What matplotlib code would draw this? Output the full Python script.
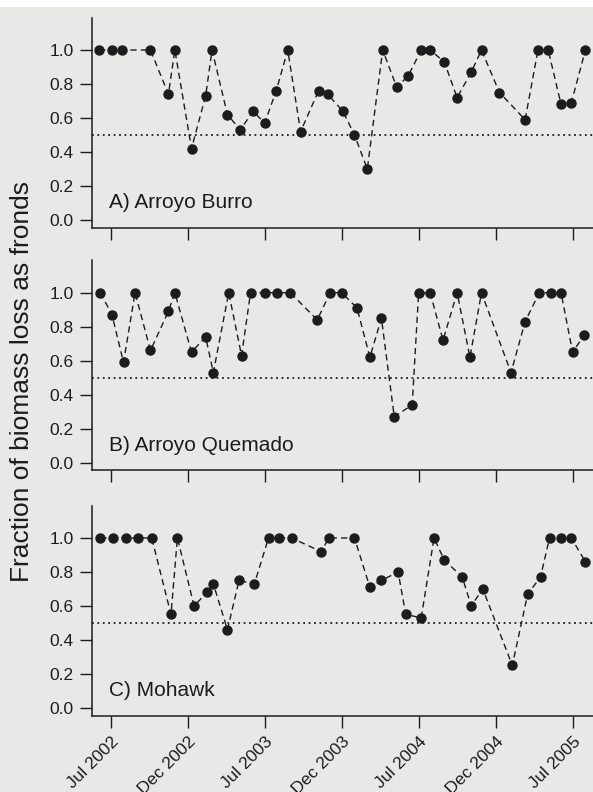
import numpy as np
import matplotlib
matplotlib.use("Agg")
import matplotlib.pyplot as plt
from matplotlib.patches import Rectangle

plt.rcParams['font.family'] = ['Liberation Sans', 'DejaVu Sans']

# x = months after Jul 2002 (tick positions every 6 months)
tick_pos = [0, 6, 12, 18, 24, 30, 36]
tick_labels = ["Jul 2002", "Dec 2002", "Jul 2003", "Dec 2003",
               "Jul 2004", "Dec 2004", "Jul 2005"]

burro_x = [-0.9, 0.1, 0.9, 3.1, 4.5, 5.0, 6.3, 7.4, 7.9, 9.1, 10.1, 11.1, 12.0,
           12.9, 13.8, 14.8, 16.2, 16.9, 18.1, 19.0, 20.0, 21.2, 22.3, 23.2,
           24.2, 24.9, 26.0, 27.0, 28.1, 28.9, 30.3, 32.3, 33.3, 34.1, 35.1,
           35.9, 37.0]
burro_y = [1.0, 1.0, 1.0, 1.0, 0.74, 1.0, 0.42, 0.73, 1.0, 0.62, 0.53, 0.64,
           0.57, 0.76, 1.0, 0.52, 0.76, 0.74, 0.64, 0.50, 0.30, 1.0, 0.78,
           0.85, 1.0, 1.0, 0.93, 0.72, 0.87, 1.0, 0.75, 0.59, 1.0, 1.0, 0.68,
           0.69, 1.0]

quemado_x = [-0.8, 0.1, 1.0, 1.9, 3.1, 4.5, 5.0, 6.3, 7.4, 8.0, 9.2, 10.2,
             10.9, 12.0, 13.0, 14.0, 16.1, 17.1, 18.0, 19.2, 20.2, 21.1, 22.1,
             23.5, 24.0, 24.9, 25.9, 27.0, 28.0, 28.9, 31.2, 32.3, 33.4, 34.3,
             35.1, 36.0, 36.9]
quemado_y = [1.0, 0.87, 0.59, 1.0, 0.66, 0.89, 1.0, 0.65, 0.74, 0.53, 1.0,
             0.63, 1.0, 1.0, 1.0, 1.0, 0.84, 1.0, 1.0, 0.91, 0.62, 0.85, 0.27,
             0.34, 1.0, 1.0, 0.72, 1.0, 0.62, 1.0, 0.53, 0.83, 1.0, 1.0, 1.0,
             0.65, 0.75]

mohawk_x = [-0.8, 0.2, 1.2, 2.1, 3.2, 4.7, 5.2, 6.5, 7.5, 8.0, 9.1, 10.0,
            11.2, 12.3, 13.1, 14.1, 16.4, 17.0, 19.0, 20.2, 21.1, 22.4, 23.0,
            24.2, 25.2, 26.0, 27.4, 28.1, 29.0, 31.3, 32.5, 33.5, 34.2, 35.1,
            35.9, 37.0]
mohawk_y = [1.0, 1.0, 1.0, 1.0, 1.0, 0.55, 1.0, 0.60, 0.68, 0.73, 0.46, 0.75,
            0.73, 1.0, 1.0, 1.0, 0.92, 1.0, 1.0, 0.71, 0.75, 0.80, 0.55, 0.53,
            1.0, 0.87, 0.77, 0.60, 0.70, 0.25, 0.67, 0.77, 1.0, 1.0, 1.0, 0.86]

sites = ["A) Arroyo Burro", "B) Arroyo Quemado", "C) Mohawk"]
series = [(burro_x, burro_y), (quemado_x, quemado_y), (mohawk_x, mohawk_y)]

BG = "#e8e8e6"
INK = "#1c1c1c"

fig = plt.figure(figsize=(5.93, 7.92), dpi=100, facecolor=BG)
fig.add_artist(Rectangle((0, 1 - 7 / 792), 1, 7 / 792, transform=fig.transFigure,
                         facecolor="white", edgecolor="none"))

left = 91.7 / 593
bottoms = [0.7126, 0.4062, 0.0965]
height = 0.265

for i, (name, (x, y)) in enumerate(zip(sites, series)):
    ax = fig.add_axes([left, bottoms[i], 1 - left, height])
    ax.set_facecolor("none")
    ax.axhline(0.5, color=INK, lw=1.3, ls=(0, (1, 2.0)))
    ax.plot(x, y, color=INK, lw=1.0, ls=(0, (4.5, 3)),
            marker="o", ms=6.5, mfc=INK, mec=INK)

    ax.set_xlim(-1.48, 37.59)
    ax.set_ylim(-0.045, 1.19)
    ax.set_yticks(np.arange(0, 1.01, 0.2))
    ax.set_yticklabels([f"{v:.1f}" for v in np.arange(0, 1.01, 0.2)])
    ax.set_xticks(tick_pos)
    if i == 2:
        ax.set_xticklabels(tick_labels, rotation=45, ha="right", va="top",
                           rotation_mode="anchor")
    else:
        ax.set_xticklabels([])

    for s in ["top", "right"]:
        ax.spines[s].set_visible(False)
    for s in ["left", "bottom"]:
        ax.spines[s].set_color(INK)
        ax.spines[s].set_linewidth(1.1)
    ax.tick_params(direction="out", length=8.5, width=1.0, color=INK,
                   labelcolor=INK, labelsize=12.5, pad=4.5)

    ax.text(0.035, 0.094, name, transform=ax.transAxes, fontsize=15,
            color=INK, va="baseline", ha="left")

fig.text(22 / 593, 1 - 382 / 792, "Fraction of biomass loss as fronds",
         rotation=90, ha="center", va="center", fontsize=19, color=INK)

fig.savefig("out.png", dpi=100, facecolor=BG)
